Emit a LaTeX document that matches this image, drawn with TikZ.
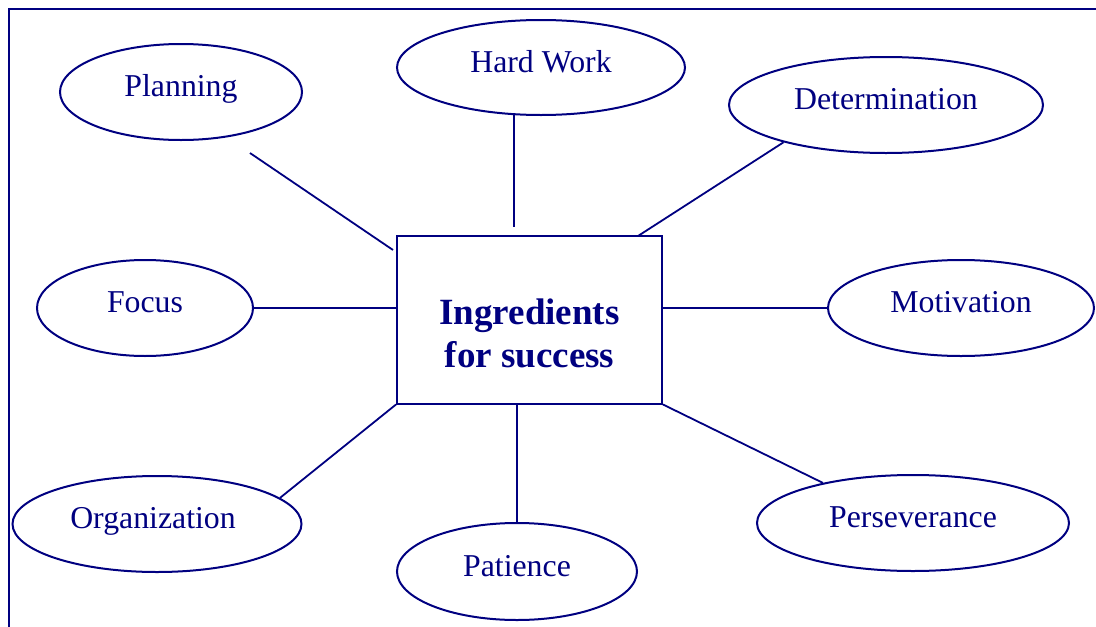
\documentclass[tikz,border=0pt]{standalone}
\usepackage{fontspec}
\setmainfont{Liberation Serif}
\usetikzlibrary{shapes.geometric,calc}
\definecolor{navy}{RGB}{0,0,128}
\tikzset{
  bubble/.style={ellipse, draw=navy, line width=2pt, inner sep=0pt,
    text=navy, font=\fontsize{31.8}{38}\selectfont, text height=18pt, text depth=9pt},
  centerbox/.style={rectangle, draw=navy, line width=2pt, inner sep=0pt,
    minimum width=265pt, minimum height=168pt},
  titletext/.style={text=navy, font=\bfseries\fontsize{37}{43}\selectfont, align=center, inner sep=0pt},
  link/.style={draw=navy, line width=1.8pt},
  frame/.style={draw=navy, line width=2.2pt}
}
\begin{document}
\begin{tikzpicture}[x=1pt,y=-1pt]
\useasboundingbox (0,0) rectangle (1096,627);
\begin{scope}
\clip (0,0) rectangle (1096,627);
\draw[frame] (8.7,700) -- (8.7,9.3) -- (1150,9.3);
\end{scope}

% centre box
\node[centerbox] (box) at (529.5,319.5) {};
\node[titletext] (title) at (529.5,333.2) {Ingredients\\for success};

% ellipses
\node[bubble, minimum width=242pt, minimum height=96pt] (planning) at (181,92) {Planning};
\node[bubble, minimum width=288pt, minimum height=95pt] (hardwork) at (541,67.5) {Hard Work};
\node[bubble, minimum width=314pt, minimum height=96pt] (determination) at (886,105) {Determination};
\node[bubble, minimum width=216pt, minimum height=96pt] (focus) at (145,308) {Focus};
\node[bubble, minimum width=266pt, minimum height=96pt] (motivation) at (961,308) {Motivation};
\node[bubble, minimum width=289pt, minimum height=96pt] (organization) at (157,524) {\hspace*{-8pt}Organization};
\node[bubble, minimum width=240pt, minimum height=97pt] (patience) at (517,571.5) {Patience};
\node[bubble, minimum width=312pt, minimum height=96pt] (perseverance) at (913,523) {Perseverance};

% free connector ends
\coordinate (planA) at (250,153);
\coordinate (planB) at (393,250);
\coordinate (hwA) at (514,115);
\coordinate (hwB) at (514,227);
\coordinate (detB) at (638,236);

% connectors
\draw[link] (planA) -- (planB);
\draw[link] (hwA) -- (hwB);
\draw[link] (determination.200.8) -- (detB);
\draw[link] (focus.east) -- (focus.east -| box.west);
\draw[link] (motivation.west) -- (motivation.west -| box.east);
\draw[link] (organization.12.4) -- (box.south west);
\draw[link] (patience.north) -- (patience.north |- box.south);
\draw[link] (perseverance.156.8) -- (box.south east);
\end{tikzpicture}
\end{document}
